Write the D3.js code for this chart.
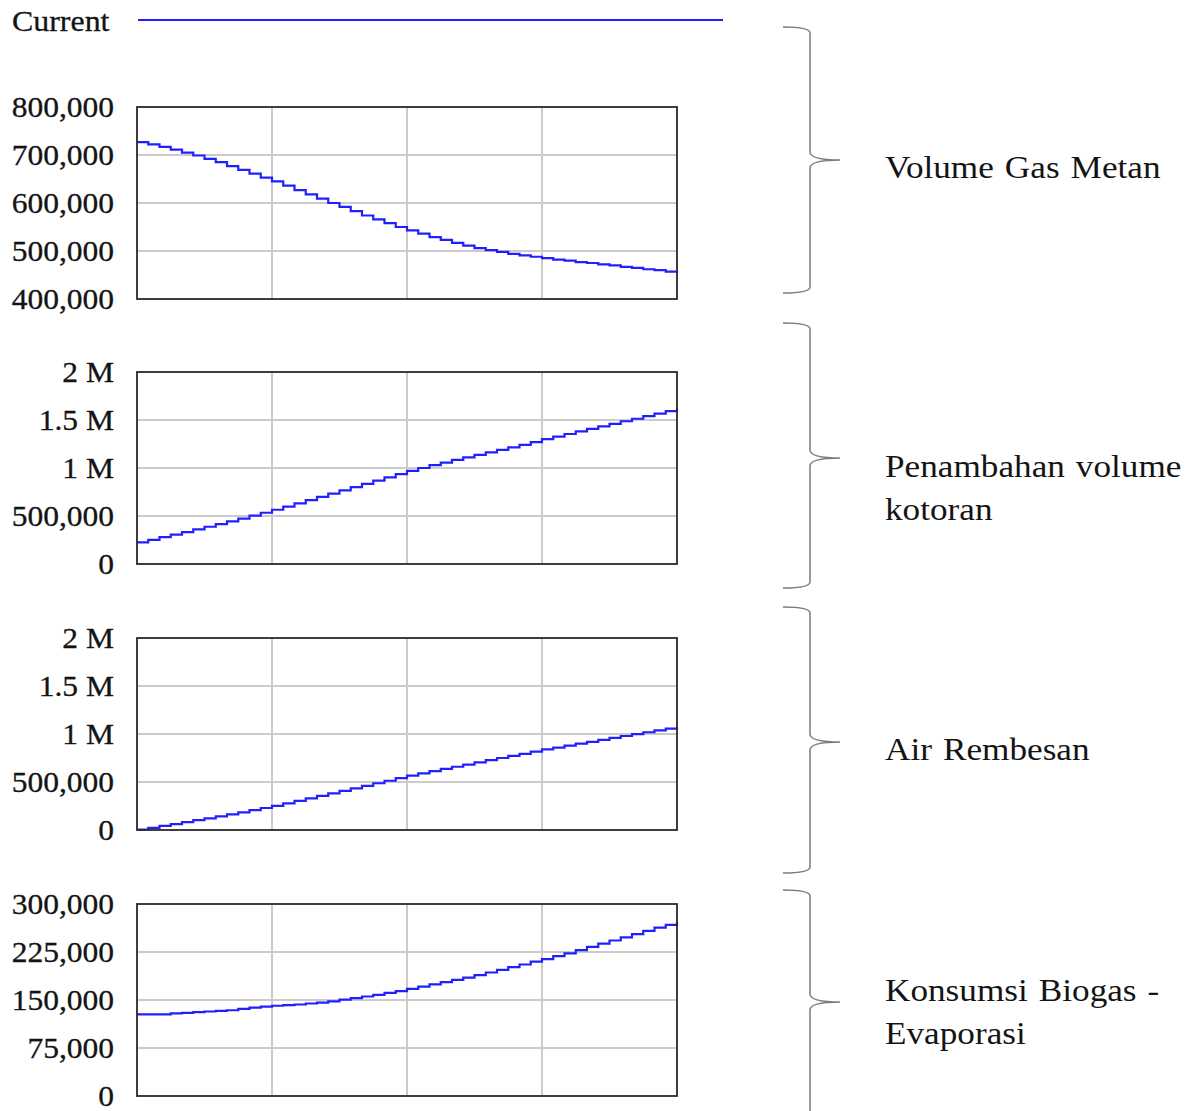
<!DOCTYPE html>
<html>
<head>
<meta charset="utf-8">
<script src="https://cdn.jsdelivr.net/npm/d3@7"></script>
<style>
  body { margin: 0; background: #fff; }
  text { font-family: "Liberation Serif", "Times New Roman", serif; fill: #141414; }
</style>
</head>
<body>
<div id="chart"></div>
<script>
// simulation output, one value per month (0..48)

var months = d3.range(0, 49);

var volumeGasMetan = [727000, 722000, 717000, 711000, 705000, 699000, 692000, 685000, 677000, 669000,
  661000, 653000, 645000, 636000, 627000, 618000, 609000, 600000, 592000, 583000,
  574000, 566000, 558000, 550000, 543000, 536000, 529000, 523000, 517000, 511000,
  506000, 502000, 498000, 494000, 491000, 488000, 485000, 482000, 480000, 477000,
  475000, 472000, 470000, 467000, 465000, 462000, 460000, 457000, 455000];

var penambahanKotoran = [225000, 252000, 279000, 306000, 333000, 360000, 388000, 416000, 444000, 473000,
  503000, 534000, 565000, 598000, 631000, 665000, 699000, 733000, 767000, 801000,
  835000, 869000, 903000, 937000, 970000, 1000000, 1029000, 1057000, 1084000, 1110000,
  1136000, 1162000, 1188000, 1214000, 1240000, 1270000, 1300000, 1327000, 1354000, 1381000,
  1408000, 1434000, 1460000, 1487000, 1513000, 1540000, 1566000, 1593000, 1620000];

var airRembesan = [5000, 22000, 42000, 62000, 82000, 102000, 122000, 142000, 163000, 184000,
  206000, 229000, 252000, 278000, 304000, 330000, 356000, 382000, 408000, 434000,
  460000, 487000, 513000, 540000, 566000, 590000, 613000, 636000, 659000, 681000,
  704000, 727000, 750000, 772000, 794000, 817000, 839000, 859000, 879000, 899000,
  919000, 939000, 959000, 979000, 999000, 1018000, 1037000, 1056000, 1075000];

var konsumsiEvaporasi = [127500, 127500, 127500, 129000, 130000, 131000, 132000, 133000, 134000, 136000,
  138000, 139500, 141000, 142000, 143000, 144500, 146000, 148000, 150500, 153000,
  155500, 158000, 161000, 164000, 167500, 171000, 174500, 178000, 181500, 185000,
  189000, 193000, 197000, 201500, 205500, 210000, 214000, 218500, 223000, 228000,
  233000, 238000, 243000, 248000, 253000, 258000, 263000, 267500, 272000];

// y tick values and their labels
var ticksVolume = [400000, 500000, 600000, 700000, 800000];
var labelsVolume = ["400,000", "500,000", "600,000", "700,000", "800,000"];
var ticksMillion = [0, 500000, 1000000, 1500000, 2000000];
var labelsMillion = ["0", "500,000", "1 M", "1.5 M", "2 M"];
var ticksKonsumsi = [0, 75000, 150000, 225000, 300000];
var labelsKonsumsi = ["0", "75,000", "150,000", "225,000", "300,000"];
var gridMonths = [12, 24, 36];

var captions = [["Volume Gas Metan"], ["Penambahan volume", "kotoran"], ["Air Rembesan"], ["Konsumsi Biogas -", "Evaporasi"]];
var legendLabel = "Current";

var panels = [
  { values: volumeGasMetan, ticks: ticksVolume, labels: labelsVolume, caption: captions[0] },
  { values: penambahanKotoran, ticks: ticksMillion, labels: labelsMillion, caption: captions[1] },
  { values: airRembesan, ticks: ticksMillion, labels: labelsMillion, caption: captions[2] },
  { values: konsumsiEvaporasi, ticks: ticksKonsumsi, labels: labelsKonsumsi, caption: captions[3] }
];

var width = 1194, height = 1111;
var plotLeft = 137, plotRight = 677, plotH = 192;
var panelTops = [107, 372, 638, 904];
var braces = [
  { top: 27, bottom: 293, mid: 160 },
  { top: 323, bottom: 588, mid: 458 },
  { top: 607, bottom: 873, mid: 742 },
  { top: 890, bottom: 1130, mid: 1002 }
];
var captionBaselines = [[178], [477, 520], [760], [1001, 1044]];
var lineColor = "#2020ff";

var svg = d3.select("#chart").append("svg")
  .attr("width", width)
  .attr("height", height);

// stretch text a little sideways, the original is wider than Times
function stretch(sel, k) {
  sel.each(function() {
    var len = this.getComputedTextLength();
    d3.select(this).attr("textLength", len * k).attr("lengthAdjust", "spacingAndGlyphs");
  });
}

var x = d3.scaleLinear().domain([0, 48]).range([plotLeft, plotRight]);

// legend
svg.append("text")
  .attr("x", 12).attr("y", 31)
  .attr("font-size", 29)
  .attr("stroke", "#141414").attr("stroke-width", 0.3)
  .text(legendLabel)
  .call(stretch, 1.1);
svg.append("line")
  .attr("x1", 138).attr("x2", 723)
  .attr("y1", 20).attr("y2", 20)
  .attr("stroke", lineColor)
  .attr("stroke-width", 2.2);

panels.forEach(function(p, i) {
  var top = panelTops[i];
  var y = d3.scaleLinear()
    .domain([p.ticks[0], p.ticks[p.ticks.length - 1]])
    .range([top + plotH, top]);

  var g = svg.append("g");

  // gridlines
  g.append("g")
    .selectAll("line.h")
    .data(p.ticks.slice(1, -1))
    .enter().append("line")
      .attr("x1", plotLeft).attr("x2", plotRight)
      .attr("y1", function(d) { return y(d); })
      .attr("y2", function(d) { return y(d); })
      .attr("stroke", "#cbcbcb")
      .attr("stroke-width", 2);
  g.append("g")
    .selectAll("line.v")
    .data(gridMonths)
    .enter().append("line")
      .attr("x1", function(d) { return x(d); })
      .attr("x2", function(d) { return x(d); })
      .attr("y1", top).attr("y2", top + plotH)
      .attr("stroke", "#cbcbcb")
      .attr("stroke-width", 2);

  // y axis labels
  var ax = g.append("g")
    .attr("transform", "translate(" + plotLeft + ",0)")
    .call(d3.axisLeft(y)
      .tickValues(p.ticks)
      .tickSize(0)
      .tickPadding(23)
      .tickFormat(function(d, j) { return p.labels[j]; }));
  ax.select(".domain").remove();
  ax.selectAll("text")
    .attr("font-size", 30)
    .attr("font-family", "Liberation Serif, Times New Roman, serif")
    .attr("fill", "#141414")
    .attr("stroke", "#141414").attr("stroke-width", 0.3)
    .call(stretch, 1.05);

  // the series
  var line = d3.line()
    .x(function(d, j) { return x(months[j]); })
    .y(function(d) { return y(d); })
    .curve(d3.curveStepAfter);
  g.append("path")
    .datum(p.values)
    .attr("d", line)
    .attr("fill", "none")
    .attr("stroke", lineColor)
    .attr("stroke-width", 2.2);

  // frame
  g.append("rect")
    .attr("x", plotLeft).attr("y", top)
    .attr("width", plotRight - plotLeft).attr("height", plotH)
    .attr("fill", "none")
    .attr("stroke", "#2a2a2a")
    .attr("stroke-width", 1.8);

  // brace + caption
  var b = braces[i];
  var bx0 = 783, bx = 810, tip = 840;
  var d = "M" + bx0 + "," + b.top +
    " Q" + bx + "," + b.top + " " + bx + "," + (b.top + 6) +
    " L" + bx + "," + (b.mid - 8) +
    " Q" + bx + "," + b.mid + " " + tip + "," + b.mid +
    " Q" + bx + "," + b.mid + " " + bx + "," + (b.mid + 8) +
    " L" + bx + "," + (b.bottom - 6) +
    " Q" + bx + "," + b.bottom + " " + bx0 + "," + b.bottom;
  svg.append("path")
    .attr("d", d)
    .attr("fill", "none")
    .attr("stroke", "#7a7a7a")
    .attr("stroke-width", 1.5);

  p.caption.forEach(function(c, k) {
    svg.append("text")
      .attr("x", 885)
      .attr("y", captionBaselines[i][k])
      .attr("font-size", 32)
      .style("word-spacing", "2px")
      .text(c)
      .call(stretch, 1.1);
  });
});
</script>
</body>
</html>
